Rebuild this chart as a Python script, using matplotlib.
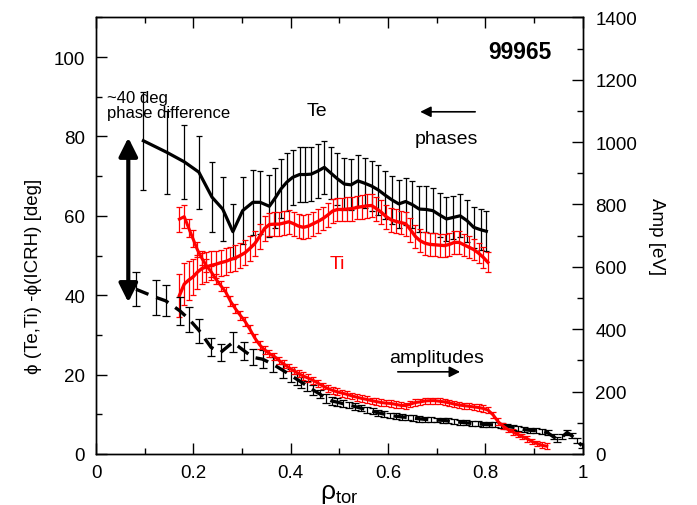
import matplotlib
matplotlib.use("Agg")
import matplotlib.pyplot as plt
from matplotlib.ticker import MultipleLocator

plt.rcParams['font.family'] = ['Liberation Sans', 'DejaVu Sans']
plt.rcParams['mathtext.fontset'] = 'custom'
plt.rcParams['mathtext.rm'] = 'Liberation Sans'
plt.rcParams['mathtext.it'] = 'Liberation Sans'

# Te phase [deg]
te_ph_x = [0.097, 0.145, 0.181, 0.211, 0.238, 0.260, 0.281, 0.301, 0.322, 0.337,
           0.356, 0.368, 0.380, 0.392, 0.404, 0.418, 0.430, 0.442, 0.456, 0.469,
           0.482, 0.496, 0.510, 0.524, 0.538, 0.552, 0.566, 0.580, 0.594, 0.608,
           0.622, 0.636, 0.650, 0.664, 0.678, 0.692, 0.706, 0.720, 0.734, 0.748,
           0.762, 0.776, 0.790, 0.802]
te_ph_y = [78.9, 76.0, 73.6, 71.0, 64.7, 61.7, 56.0, 61.3, 63.4, 63.4,
           62.4, 64.5, 66.8, 68.5, 69.7, 70.4, 70.4, 70.5, 71.3, 72.2,
           70.8, 69.3, 68.0, 67.8, 68.8, 68.2, 67.5, 66.5, 65.2, 64.0,
           63.0, 63.6, 62.8, 61.7, 61.6, 61.3, 60.2, 59.2, 59.6, 60.0,
           58.8, 57.1, 56.5, 56.1]
te_ph_err = [12.4, 10.5, 9.3, 9.2, 8.8, 8.0, 7.0, 8.4, 8.2, 8.0,
             7.8, 7.5, 7.4, 7.2, 7.0, 7.0, 7.0, 6.8, 6.8, 6.6,
             6.6, 6.5, 6.5, 6.4, 6.4, 6.3, 6.2, 6.2, 6.1, 6.0,
             6.0, 6.0, 5.9, 5.8, 5.8, 5.7, 5.6, 5.5, 5.5, 5.4,
             5.3, 5.2, 5.1, 5.0]

# Ti phase [deg]
ti_ph_x = [0.171, 0.181, 0.190, 0.199, 0.208, 0.217, 0.226, 0.236, 0.246, 0.256,
           0.266, 0.276, 0.286, 0.296, 0.306, 0.316, 0.326, 0.336, 0.346, 0.356,
           0.366, 0.376, 0.386, 0.396, 0.406, 0.416, 0.426, 0.436, 0.446, 0.456,
           0.466, 0.476, 0.486, 0.496, 0.506, 0.516, 0.526, 0.536, 0.546, 0.556,
           0.566, 0.576, 0.586, 0.596, 0.606, 0.616, 0.626, 0.636, 0.646, 0.656,
           0.666, 0.676, 0.686, 0.696, 0.706, 0.716, 0.726, 0.736, 0.746, 0.756,
           0.766, 0.776, 0.786, 0.796, 0.805]
ti_ph_y = [39.9, 42.8, 43.8, 44.6, 45.8, 46.7, 47.1, 47.5, 47.8, 48.2,
           48.5, 49.0, 49.4, 50.0, 50.7, 51.8, 53.0, 54.8, 56.8, 57.8,
           57.9, 57.9, 58.2, 58.5, 58.0, 57.4, 57.1, 57.4, 58.0, 58.6,
           59.3, 60.2, 61.2, 61.6, 61.6, 61.7, 61.8, 62.1, 62.3, 62.5,
           62.6, 61.8, 60.9, 59.8, 59.0, 58.6, 58.3, 58.0, 56.5, 54.8,
           53.7, 53.1, 52.8, 52.7, 52.6, 52.5, 52.8, 53.3, 53.3, 52.7,
           52.1, 51.5, 50.6, 49.5, 48.3]
ti_ph_err = [5.5, 5.2, 4.9, 4.6, 4.3, 4.0, 3.8, 3.6, 3.4, 3.3,
             3.3, 3.2, 3.2, 3.2, 3.2, 3.1, 3.1, 3.1, 3.1, 3.0,
             3.0, 3.0, 3.0, 3.0, 3.0, 3.0, 3.0, 3.0, 3.0, 3.0,
             3.0, 3.0, 3.0, 3.0, 3.0, 3.0, 3.0, 3.0, 3.0, 3.0,
             3.0, 3.0, 3.0, 3.0, 3.0, 3.0, 3.0, 3.0, 3.0, 3.0,
             2.9, 2.9, 2.9, 2.9, 2.9, 2.8, 2.8, 2.8, 2.8, 2.7,
             2.7, 2.7, 2.6, 2.6, 2.5]

# Ti amplitude [eV]
ti_amp_x = [0.171, 0.181, 0.190, 0.199, 0.208, 0.217, 0.226, 0.236, 0.246, 0.256,
            0.266, 0.276, 0.286, 0.296, 0.306, 0.316, 0.326, 0.336, 0.346, 0.356,
            0.366, 0.376, 0.386, 0.396, 0.406, 0.416, 0.426, 0.436, 0.446, 0.456,
            0.466, 0.476, 0.486, 0.496, 0.506, 0.516, 0.526, 0.536, 0.546, 0.556,
            0.566, 0.576, 0.586, 0.596, 0.606, 0.616, 0.626, 0.636, 0.646, 0.656,
            0.666, 0.676, 0.686, 0.696, 0.706, 0.716, 0.726, 0.736, 0.746, 0.756,
            0.766, 0.776, 0.786, 0.796, 0.806, 0.816, 0.826, 0.836, 0.846, 0.856,
            0.866, 0.876, 0.886, 0.896, 0.906, 0.916, 0.926]
ti_amp_y = [753, 761, 725, 690, 655, 628, 605, 585, 561, 540,
            520, 490, 466, 445, 425, 400, 372, 350, 334, 322,
            313, 300, 288, 277, 267, 258, 250, 243, 236, 227,
            218, 210, 204, 199, 195, 191, 186, 182, 178, 175,
            171, 168, 165, 163, 162, 159, 156, 155, 160, 165,
            167, 170, 171, 171, 169, 167, 164, 160, 157, 155,
            153, 151, 149, 146, 140, 125, 104, 90, 79, 71,
            63, 56, 49, 40, 34, 28, 25]
ti_amp_err = [40, 36, 30, 27, 25, 22, 20, 18, 17, 16,
              15, 15, 14, 14, 14, 13, 13, 13, 12, 12,
              12, 12, 12, 12, 12, 12, 12, 12, 11, 11,
              11, 11, 11, 11, 11, 11, 11, 11, 11, 11,
              10, 10, 10, 10, 10, 10, 10, 10, 10, 10,
              10, 10, 10, 10, 10, 10, 10, 10, 10, 10,
              10, 10, 10, 10, 10, 10, 10, 10, 9, 9,
              9, 9, 9, 9, 9, 9, 9]

# Te amplitude [eV]
te_amp_x = [0.082, 0.123, 0.143, 0.172, 0.191, 0.212, 0.236, 0.256, 0.281, 0.304,
            0.322, 0.342, 0.363, 0.385, 0.400, 0.412, 0.422, 0.433, 0.446, 0.460,
            0.472, 0.484, 0.496, 0.508, 0.520, 0.532, 0.544, 0.556, 0.568, 0.580,
            0.592, 0.604, 0.616, 0.628, 0.640, 0.652, 0.664, 0.676, 0.688, 0.700,
            0.712, 0.724, 0.736, 0.748, 0.760, 0.772, 0.784, 0.796, 0.808, 0.820,
            0.832, 0.844, 0.856, 0.868, 0.880, 0.892, 0.904, 0.916, 0.928, 0.940,
            0.948, 0.958, 0.968, 0.978, 0.988, 0.998]
te_amp_y = [528, 502, 491, 459, 432, 395, 342, 326, 358, 331,
            310, 304, 288, 267, 252, 240, 230, 219, 205, 192,
            178, 170, 166, 161, 157, 152, 147, 142, 137, 132,
            128, 124, 121, 119, 117, 115, 113, 111, 110, 109,
            108, 106, 104, 102, 100, 98, 97, 95, 94, 93,
            91, 89, 86, 82, 78, 76, 75, 72, 68, 55,
            47, 55, 69, 58, 43, 27]
te_amp_err = [55, 55, 50, 44, 40, 38, 29, 27, 32, 29,
              26, 28, 24, 22, 20, 18, 17, 16, 15, 14,
              13, 12, 12, 11, 11, 10, 10, 10, 10, 10,
              9, 9, 9, 9, 9, 9, 9, 9, 8, 8,
              8, 8, 8, 8, 8, 8, 8, 8, 8, 8,
              8, 8, 8, 8, 8, 8, 8, 8, 8, 8,
              8, 8, 8, 8, 8, 8]


def main():
    fig = plt.figure(figsize=(6.97, 5.06), dpi=100)
    ax = fig.add_axes([0.138, 0.1008, 0.698, 0.8630])
    ax2 = ax.twinx()

    # amplitudes on the right axis
    ax2.errorbar(te_amp_x, te_amp_y, yerr=te_amp_err, color='k', lw=2.4,
                 ls=(0, (4, 2.5)), elinewidth=0.9, capsize=3, capthick=0.9)
    ax2.errorbar(ti_amp_x, ti_amp_y, yerr=ti_amp_err, color='#ff0000', lw=2.2,
                 elinewidth=0.9, capsize=2.5, capthick=0.9)

    # phases on the left axis
    ax.errorbar(te_ph_x, te_ph_y, yerr=te_ph_err, color='k', lw=2.3,
                elinewidth=0.9, capsize=2.5, capthick=0.9, zorder=3)
    ax.errorbar(ti_ph_x, ti_ph_y, yerr=ti_ph_err, color='#ff0000', lw=2.4,
                elinewidth=0.9, capsize=2.5, capthick=0.9, zorder=4)

    ax.set_xlim(0, 1)
    ax.set_ylim(0, 110)
    ax2.set_ylim(0, 1400)

    ax.xaxis.set_major_locator(MultipleLocator(0.2))
    ax.xaxis.set_minor_locator(MultipleLocator(0.1))
    ax.yaxis.set_major_locator(MultipleLocator(20))
    ax.yaxis.set_minor_locator(MultipleLocator(10))
    ax2.yaxis.set_major_locator(MultipleLocator(200))
    ax2.yaxis.set_minor_locator(MultipleLocator(100))
    ax.xaxis.set_major_formatter(plt.FuncFormatter(lambda v, p: '%g' % round(v, 1)))

    ax.tick_params(which='both', direction='in', top=True, right=False,
                   labelsize=13.5, width=1)
    ax.tick_params(which='major', length=8)
    ax.tick_params(which='minor', length=4)
    ax.tick_params(axis='y', pad=8)
    ax.tick_params(axis='x', pad=7)
    ax2.tick_params(which='both', direction='in', labelsize=13.5, width=1, pad=9)
    ax2.tick_params(which='major', length=8)
    ax2.tick_params(which='minor', length=4)
    for a in (ax, ax2):
        for s in a.spines.values():
            s.set_linewidth(1)

    ax.set_ylabel('\u03d5 (Te,Ti) -\u03d5(ICRH) [deg]', fontsize=13.5)
    ax.yaxis.set_label_coords(-0.112, 0.41)
    ax2.set_ylabel('Amp [eV]', fontsize=13.5, rotation=270, labelpad=20)
    ax.set_xlabel(r'$\rho_{\rm tor}$', fontsize=19, labelpad=0)

    # annotations
    ax.text(0.871, 101.3, '99965', fontsize=16.5, fontweight='bold',
            ha='center', va='center')
    ax.text(0.023, 91.8, '~40 deg\nphase difference', fontsize=12,
            ha='left', va='top', linespacing=1.0)
    ax.annotate('', xy=(0.066, 79.7), xytext=(0.066, 38.2),
                arrowprops=dict(arrowstyle='<|-|>', lw=3, color='k',
                                mutation_scale=28, shrinkA=0, shrinkB=0))
    ax.text(0.454, 86.5, 'Te', fontsize=14, ha='center', va='center')
    ax.annotate('', xy=(0.666, 86.2), xytext=(0.779, 86.2),
                arrowprops=dict(arrowstyle='-|>', lw=1.2, color='k',
                                mutation_scale=16, shrinkA=0, shrinkB=0))
    ax.text(0.719, 79.5, 'phases', fontsize=14, ha='center', va='center')
    ax.text(0.496, 48.0, 'Ti', fontsize=14, color='#ff0000',
            ha='center', va='center')
    ax.text(0.70, 24.3, 'amplitudes', fontsize=14, ha='center', va='center')
    ax.annotate('', xy=(0.748, 20.7), xytext=(0.62, 20.7),
                arrowprops=dict(arrowstyle='-|>', lw=1.2, color='k',
                                mutation_scale=16, shrinkA=0, shrinkB=0))

    fig.savefig('out.png', dpi=100)


if __name__ == "__main__":
    main()
